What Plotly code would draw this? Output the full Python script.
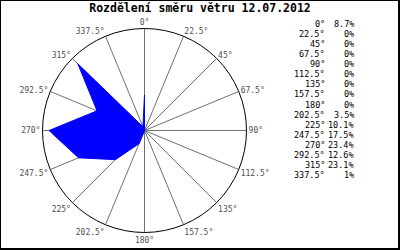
import plotly.graph_objects as go

directions = [0, 22.5, 45, 67.5, 90, 112.5, 135, 157.5, 180, 202.5, 225, 247.5, 270, 292.5, 315, 337.5]
dir_labels = ["0°", "22.5°", "45°", "67.5°", "90°", "112.5°", "135°", "157.5°", "180°",
              "202.5°", "225°", "247.5°", "270°", "292.5°", "315°", "337.5°"]
values = [8.7, 0, 0, 0, 0, 0, 0, 0, 0, 3.5, 10.1, 17.5, 23.4, 12.6, 23.1, 1]
pct_labels = ["8.7%", "0%", "0%", "0%", "0%", "0%", "0%", "0%", "0%",
              "3.5%", "10.1%", "17.5%", "23.4%", "12.6%", "23.1%", "1%"]
title = "Rozdělení směru větru 12.07.2012"

W, H = 400, 250
MONO = "DejaVu Sans Mono"

fig = go.Figure()
fig.add_trace(go.Scatterpolar(
    r=values + values[:1], theta=directions + directions[:1],
    mode="lines", fill="toself", fillcolor="#0000ff",
    line=dict(color="#0000ff", width=1), hoverinfo="skip", showlegend=False))

cx, cy, rad = 144.5, 130.5, 102
fig.update_layout(
    width=W, height=H, margin=dict(l=0, r=0, t=0, b=0),
    paper_bgcolor="white", plot_bgcolor="white",
    title=dict(text=title, x=0.5, xanchor="center", y=1 - 8 / H, yanchor="middle",
               font=dict(family=MONO, size=11.5, color="black", weight="bold")),
    polar=dict(
        domain=dict(x=[(cx - rad) / W, (cx + rad) / W], y=[(H - cy - rad) / H, (H - cy + rad) / H]),
        bgcolor="white",
        angularaxis=dict(rotation=90, direction="clockwise",
                         tickmode="array", tickvals=directions, ticktext=dir_labels,
                         showgrid=True, gridcolor="#707070", gridwidth=1,
                         showline=True, linecolor="black", linewidth=1,
                         ticks="", ticklen=0,
                         tickfont=dict(family=MONO, size=8, color="#505050")),
        radialaxis=dict(range=[0, 25], visible=False, showgrid=False),
    ),
)

for i, (lab, pct) in enumerate(zip(dir_labels, pct_labels)):
    yp = 1 - (24 + i * 10.07) / H
    fig.add_annotation(x=327 / W, y=yp, xref="paper", yref="paper", text=lab,
                       showarrow=False, xanchor="right", yanchor="middle",
                       font=dict(family=MONO, size=8.5, color="black"))
    fig.add_annotation(x=356 / W, y=yp, xref="paper", yref="paper", text=pct,
                       showarrow=False, xanchor="right", yanchor="middle",
                       font=dict(family=MONO, size=8.5, color="black"))

fig.add_shape(type="rect", xref="paper", yref="paper", x0=0, y0=1 / H, x1=399 / W, y1=1,
              line=dict(color="black", width=2))

fig.write_html("out.html")
